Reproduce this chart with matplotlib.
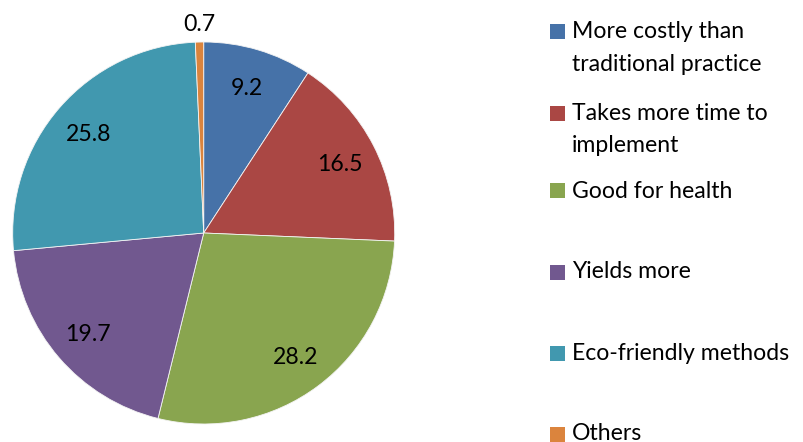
import matplotlib
matplotlib.use("Agg")
import matplotlib.pyplot as plt
from matplotlib.patches import Rectangle
import numpy as np

plt.rcParams['font.family'] = ['Lato', 'DejaVu Sans']

categories = [
    "More costly than\ntraditional practice",
    "Takes more time to\nimplement",
    "Good for health",
    "Yields more",
    "Eco-friendly methods",
    "Others",
]
values = [9.2, 16.5, 28.2, 19.7, 25.8, 0.7]
value_labels = ["9.2", "16.5", "28.2", "19.7", "25.8", "0.7"]
colors = ["#4672A8", "#AA4744", "#89A54F", "#71588F", "#4198AF", "#DB843D"]

W, H = 804, 442
fig = plt.figure(figsize=(W / 100, H / 100), dpi=100)

# Pie axes: square, centred at (204, 233) px from top-left, radius 191 px
cx, cy, r = 203.7, 233.0, 191.0
ax = fig.add_axes([(cx - r) / W, (H - cy - r) / H, 2 * r / W, 2 * r / H])
wedges, _ = ax.pie(values, colors=colors, startangle=90, counterclock=False,
                   radius=1.0, wedgeprops=dict(edgecolor="#f4f4f4", linewidth=0.6))
ax.set_xlim(-1, 1)
ax.set_ylim(-1, 1)
ax.set_aspect("equal")
ax.axis("off")

fs = 16.6
# Value labels placed along each wedge's mid-angle
for w, lab in zip(wedges, value_labels):
    mid = np.deg2rad((w.theta1 + w.theta2) / 2)
    dist = 1.10 if lab == "0.7" else 0.80
    ax.text(dist * np.cos(mid), dist * np.sin(mid) - 0.01, lab, ha="center", va="center",
            fontsize=fs, color="#000000", clip_on=False)

# Legend at right: marker beside the first line of each entry
leg_y = [31.5, 113, 191, 272, 353, 434]
line_gap = 33
for w, name, y in zip(wedges, categories, leg_y):
    fig.patches.append(Rectangle((550 / W, (H - y - 7.5) / H), 15 / W, 15 / H,
                                 transform=fig.transFigure, facecolor=w.get_facecolor(),
                                 edgecolor="none"))
    for i, line in enumerate(name.split("\n")):
        fig.text(572 / W, (H - y - i * line_gap) / H, line, ha="left", va="center",
                 fontsize=fs, color="#000000")

fig.savefig("out.png", dpi=100, facecolor="white")
